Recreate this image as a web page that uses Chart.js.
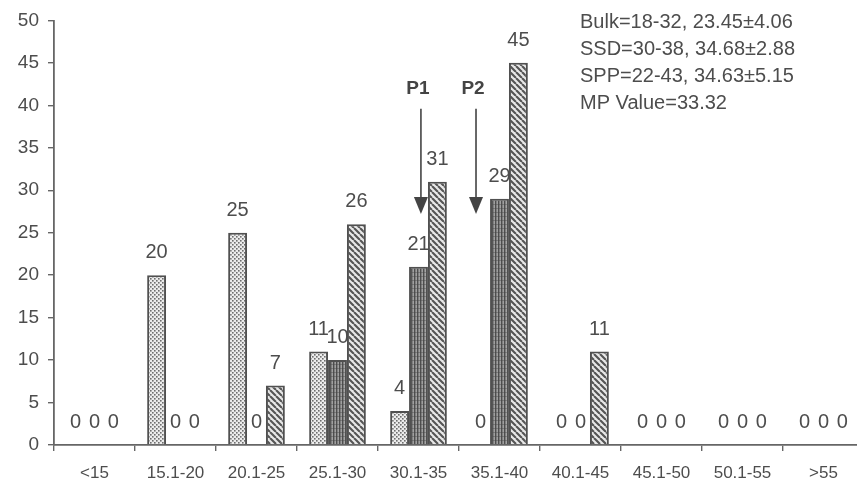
<!DOCTYPE html>
<html>
<head>
<meta charset="utf-8">
<script src="https://cdn.jsdelivr.net/npm/chart.js@4/dist/chart.umd.min.js"></script>
<style>
  html, body { margin: 0; padding: 0; background: #fff; overflow: hidden; }
  #wrap { width: 866px; height: 486px; }
</style>
</head>
<body>
<div id="wrap"><canvas id="c" width="866" height="486"></canvas></div>
<script>
// Size classes (x axis) and counts per group
const categories = ['<15', '15.1-20', '20.1-25', '25.1-30', '30.1-35', '35.1-40', '40.1-45', '45.1-50', '50.1-55', '>55'];
const bulkCounts = [0, 20, 25, 11, 4, 0, 0, 0, 0, 0];
const ssdCounts  = [0, 0, 0, 10, 21, 29, 0, 0, 0, 0];
const sppCounts  = [0, 0, 7, 26, 31, 45, 11, 0, 0, 0];
const yTicks = [0, 5, 10, 15, 20, 25, 30, 35, 40, 45, 50];
const summaryLines = [
  'Bulk=18-32, 23.45\u00b14.06',
  'SSD=30-38, 34.68\u00b12.88',
  'SPP=22-43, 34.63\u00b15.15',
  'MP Value=33.32'
];
// Peak markers: position on the category axis (fractional index)
const peaks = [
  { label: 'P1', at: 4.03 },
  { label: 'P2', at: 4.71 }
];

const FONT = '"Liberation Sans", Arial, sans-serif';
const TEXT = '#4d4d4d';
const LINE = '#666';

function tile(w, h, paint) {
  const cv = document.createElement('canvas');
  cv.width = w; cv.height = h;
  const g = cv.getContext('2d');
  paint(g, w, h);
  return g.createPattern(cv, 'repeat');
}

// dotted fill
const dotFill = tile(4, 4, (g) => {
  g.fillStyle = '#ececec'; g.fillRect(0, 0, 4, 4);
  g.fillStyle = '#6e6e6e';
  g.fillRect(0, 0, 1.6, 1.6);
  g.fillRect(2, 2, 1.6, 1.6);
});
// dense vertical stripes
const stripeFill = tile(3, 4, (g) => {
  g.fillStyle = '#a0a0a0'; g.fillRect(0, 0, 3, 4);
  g.fillStyle = '#4e4e4e'; g.fillRect(0, 0, 1.4, 4);
  g.fillStyle = 'rgba(70,70,70,0.4)'; g.fillRect(0, 0, 3, 1);
});
// diagonal hatch (top-left to bottom-right)
const hatchFill = tile(6, 6, (g) => {
  g.fillStyle = '#e8e8e8'; g.fillRect(0, 0, 6, 6);
  g.strokeStyle = '#555'; g.lineWidth = 2.1;
  g.beginPath();
  for (let k = -6; k <= 6; k += 6) {
    g.moveTo(k, 0); g.lineTo(k + 6, 6);
  }
  g.stroke();
});

const valueLabels = {
  id: 'valueLabels',
  afterDatasetsDraw(chart) {
    const ctx = chart.ctx;
    ctx.save();
    ctx.font = '20px ' + FONT;
    ctx.fillStyle = TEXT;
    ctx.textAlign = 'center';
    ctx.textBaseline = 'alphabetic';
    chart.data.datasets.forEach((ds, i) => {
      chart.getDatasetMeta(i).data.forEach((bar, j) => {
        ctx.fillText(String(ds.data[j]), bar.x, bar.y - 17);
      });
    });
    ctx.restore();
  }
};

const notes = {
  id: 'notes',
  afterDraw(chart) {
    const ctx = chart.ctx;
    const xs = chart.scales.x, ys = chart.scales.y;
    ctx.save();
    // summary block
    ctx.font = '20px ' + FONT;
    ctx.fillStyle = TEXT;
    ctx.textAlign = 'left';
    ctx.textBaseline = 'alphabetic';
    summaryLines.forEach((t, i) => ctx.fillText(t, 580, 28 + i * 27));
    // peak arrows
    peaks.forEach(p => {
      const x = xs.getPixelForValue(p.at);
      const yTop = ys.getPixelForValue(39.6);
      const yTip = ys.getPixelForValue(27.2);
      ctx.font = 'bold 19px ' + FONT;
      ctx.fillStyle = '#444';
      ctx.textAlign = 'center';
      ctx.fillText(p.label, x - 3, ys.getPixelForValue(41.3));
      ctx.strokeStyle = '#444';
      ctx.lineWidth = 1.6;
      ctx.beginPath();
      ctx.moveTo(x, yTop);
      ctx.lineTo(x, yTip - 12);
      ctx.stroke();
      ctx.beginPath();
      ctx.moveTo(x - 7, yTip - 17);
      ctx.lineTo(x + 7, yTip - 17);
      ctx.lineTo(x, yTip);
      ctx.closePath();
      ctx.fill();
    });
    ctx.restore();
  }
};

new Chart(document.getElementById('c'), {
  type: 'bar',
  data: {
    labels: categories,
    datasets: [
      { label: 'Bulk', data: bulkCounts, backgroundColor: dotFill },
      { label: 'SSD', data: ssdCounts, backgroundColor: stripeFill },
      { label: 'SPP', data: sppCounts, backgroundColor: hatchFill }
    ]
  },
  options: {
    responsive: false,
    animation: false,
    events: [],
    layout: { padding: { top: 16, right: 2, left: 0, bottom: 0 } },
    datasets: {
      bar: {
        borderColor: '#505050',
        borderWidth: 2,
        barPercentage: 1,
        categoryPercentage: 0.7
      }
    },
    plugins: {
      legend: { display: false },
      tooltip: { enabled: false },
      title: { display: false }
    },
    scales: {
      x: {
        grid: { display: true, drawOnChartArea: false, drawTicks: true, tickLength: 6, color: LINE, lineWidth: 1.4, offset: true },
        border: { display: true, color: LINE, width: 1.8 },
        ticks: { color: TEXT, font: { family: FONT, size: 17 }, padding: 12, maxRotation: 0, autoSkip: false },
        afterFit(s) { s.height = 41; }
      },
      y: {
        min: 0, max: 50,
        afterBuildTicks(s) { s.ticks = yTicks.map(v => ({ value: v })); },
        grid: { display: true, drawOnChartArea: false, drawTicks: true, tickLength: 6, color: LINE, lineWidth: 1.4 },
        border: { display: true, color: LINE, width: 1.8 },
        ticks: { color: TEXT, font: { family: FONT, size: 19 }, padding: 9 },
        afterFit(s) { s.width = 54; }
      }
    }
  },
  plugins: [valueLabels, notes]
});
</script>
</body>
</html>
